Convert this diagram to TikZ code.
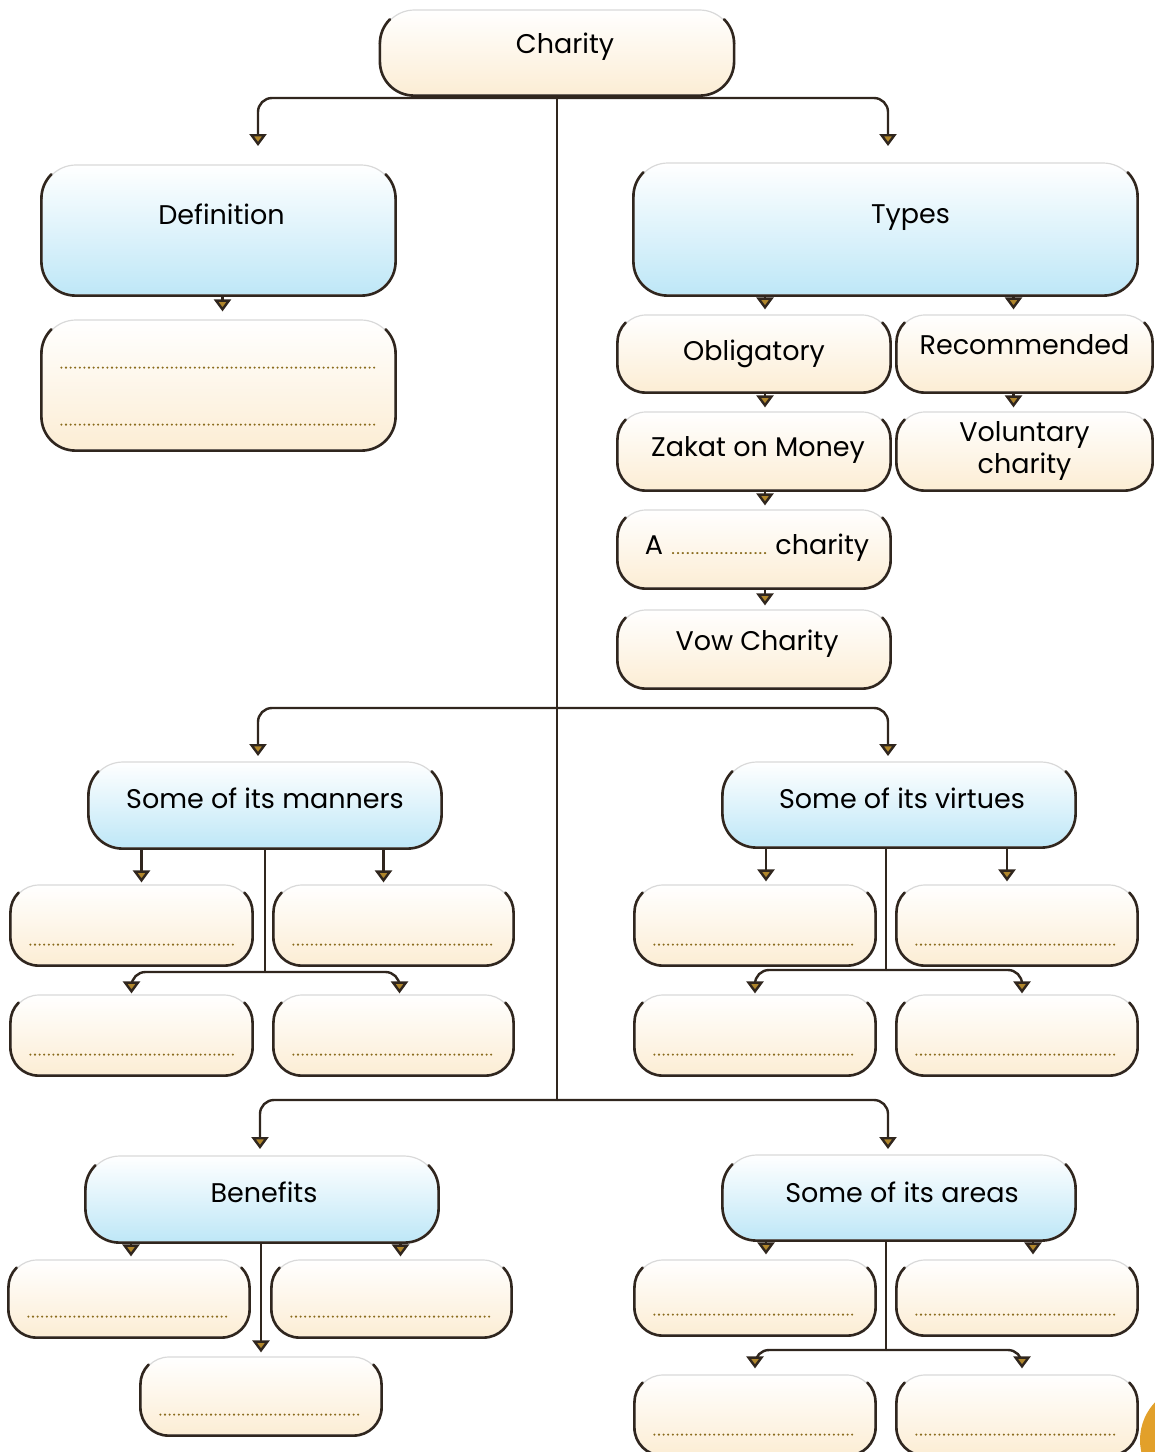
\documentclass[tikz,border=0pt]{standalone}
\usepackage{fontspec}
\setmainfont{Poppins}
\usetikzlibrary{arrows.meta,positioning}

\definecolor{linecol}{RGB}{48,38,30}
\definecolor{tipgold}{RGB}{176,134,44}
\definecolor{dotcol}{RGB}{138,108,30}
\definecolor{creambot}{RGB}{252,237,212}
\definecolor{bluebot}{RGB}{190,231,247}
\definecolor{pageorange}{RGB}{226,160,42}

\newcommand\boxfont{\fontsize{27}{32}\selectfont}
\newcommand\rim[2]{%
  \draw[rimline,rounded corners=#2] ([yshift=-#2]#1.north west) -- (#1.south west) -- (#1.south east) -- ([yshift=-#2]#1.north east);
  \draw[rimline] ([xshift=.293*#2,yshift=-.293*#2]#1.north west) .. controls ([xshift=.105*#2,yshift=-.48*#2]#1.north west) and ([yshift=-.735*#2]#1.north west) .. ([yshift=-#2]#1.north west);
  \draw[rimline] ([xshift=-.293*#2,yshift=-.293*#2]#1.north east) .. controls ([xshift=-.105*#2,yshift=-.48*#2]#1.north east) and ([yshift=-.735*#2]#1.north east) .. ([yshift=-#2]#1.north east);}
\newcommand\blank{{\fontsize{11}{11}\bfseries\selectfont\textcolor{dotcol}{\makebox[98pt]{\dotfill}}}}

\tikzset{
  box/.style={rounded corners=28pt, top color=white, bottom color=creambot,
    draw=gray!30, line width=1.2pt, inner sep=0pt, align=center, font=\boxfont,
    text height=20pt, text depth=6pt},
  headbox/.style={box, rounded corners=34pt, bottom color=bluebot},
  topbox/.style={box, rounded corners=34pt},
  rimline/.style={draw=linecol, line width=2.6pt, line cap=round},
  conn/.style={draw=linecol, line width=2.4pt},
  arr/.style={conn, rounded corners=14pt, -{Triangle[width=17pt,length=12pt,fill=tipgold]}},
  ansline/.style={draw=dotcol, line width=2.3pt, line cap=round, dash pattern=on 0pt off 4.6pt}
}

\begin{document}
\begin{tikzpicture}[x=1pt,y=-1pt]
    \useasboundingbox (0,0) rectangle (1155,1452);
    \clip (0,0) rectangle (1155,1452);

    \node[topbox, minimum width=353pt, minimum height=85pt, text depth=18pt] (charity) at (557,52.5) {\hspace*{16pt}Charity};

    \node[headbox, minimum width=353pt, minimum height=130pt, text depth=31pt] (defin) at (218.5,230) {\hspace*{6pt}Definition};
    \node[topbox, minimum width=353pt, minimum height=130pt] (defans) at (218.5,385) {};

    \node[headbox, minimum width=503pt, minimum height=132pt, text depth=31pt] (types) at (885.5,229) {\hspace*{50pt}Types};
    \node[box, minimum width=272pt, minimum height=77pt] (oblig) at (754,353.5) {Obligatory};
    \node[box, minimum width=255pt, minimum height=77pt, text depth=19pt] (recom) at (1024.5,353.5) {Recommended};
    \node[box, minimum width=272pt, minimum height=78pt, text depth=9pt] (zakat) at (754,451) {\hspace*{8pt}Zakat on Money};
    \node[box, minimum width=255pt, minimum height=78pt, text height=, text depth=] (volun) at (1024.5,451) {Voluntary\\charity};
    \node[box, minimum width=272pt, minimum height=78pt, text depth=9pt] (achar) at (754,549) {\hspace*{6pt}A \blank{} charity};
    \node[box, minimum width=272pt, minimum height=78pt, text depth=17pt] (vow) at (754,649) {\hspace*{6pt}Vow Charity};

    \node[headbox, minimum width=352pt, minimum height=86pt, text depth=13pt] (manners) at (265,805) {Some of its manners};
    \node[box, minimum width=241pt, minimum height=80pt] (m1) at (131.5,925) {};
    \node[box, minimum width=239pt, minimum height=80pt] (m2) at (393.5,925) {};
    \node[box, minimum width=241pt, minimum height=80pt] (m3) at (131.5,1035) {};
    \node[box, minimum width=239pt, minimum height=80pt] (m4) at (393.5,1035) {};

    \node[headbox, minimum width=352pt, minimum height=85pt, text depth=13pt] (virtues) at (899,804.5) {\hspace*{6pt}Some of its virtues};
    \node[box, minimum width=240pt, minimum height=80pt] (v1) at (755,925) {};
    \node[box, minimum width=240pt, minimum height=80pt] (v2) at (1017,925) {};
    \node[box, minimum width=240pt, minimum height=80pt] (v3) at (755,1035) {};
    \node[box, minimum width=240pt, minimum height=80pt] (v4) at (1017,1035) {};

    \node[headbox, minimum width=352pt, minimum height=86pt, text depth=13pt] (benef) at (262,1199) {\hspace*{4pt}Benefits};
    \node[box, minimum width=240pt, minimum height=77pt] (b1) at (129,1298.5) {};
    \node[box, minimum width=239pt, minimum height=77pt] (b2) at (391.5,1298.5) {};
    \node[box, minimum width=240pt, minimum height=78pt] (b3) at (261,1396) {};

    \node[headbox, minimum width=352pt, minimum height=85pt, text depth=11pt] (areas) at (899,1197.5) {\hspace*{6pt}Some of its areas};
    \node[box, minimum width=240pt, minimum height=75pt] (a1) at (755,1297.5) {};
    \node[box, minimum width=240pt, minimum height=75pt] (a2) at (1017,1297.5) {};
    \node[box, minimum width=240pt, minimum height=80pt] (a3) at (755,1415) {};
    \node[box, minimum width=240pt, minimum height=80pt] (a4) at (1017,1415) {};

    \foreach \n in {charity,defin,defans,types,manners,virtues,benef,areas} {\rim{\n}{34pt}}
    \foreach \n in {oblig,recom,zakat,volun,achar,vow,m1,m2,m3,m4,v1,v2,v3,v4,b1,b2,b3,a1,a2,a3,a4} {\rim{\n}{28pt}}

    % lines to write on
    \draw[ansline] ([xshift=20pt,yshift=83pt]defans.south west) -- ([xshift=-19pt,yshift=83pt]defans.south east);
    \draw[ansline] ([xshift=20pt,yshift=26pt]defans.south west) -- ([xshift=-19pt,yshift=26pt]defans.south east);
    \foreach \n in {m1,m2,m3,m4,v1,v2,v3,v4,b1,b2,b3,a1,a2,a3,a4}
        \draw[ansline] ([xshift=20pt,yshift=21pt]\n.south west) -- ([xshift=-19pt,yshift=21pt]\n.south east);

    \coordinate (j1) at (557,98);
    \coordinate (j2) at (557,708);
    \coordinate (j3) at (557,1100);
    \coordinate (tdefin) at (258,146);
    \coordinate (ttypes) at (888,146);
    \coordinate (tmanners) at (258,756);
    \coordinate (tvirtues) at (888,756);
    \coordinate (tbenef) at (260,1149);
    \coordinate (tareas) at (888,1149);
    \coordinate (jm) at (265,972);
    \coordinate (jv) at (886,970);
    \coordinate (ja) at (886,1350);

    \draw[conn] (charity.south) -- (j3);
    \draw[arr] (j1) -| (tdefin);
    \draw[arr] (j1) -| (ttypes);
    \draw[arr] (j2) -| (tmanners);
    \draw[arr] (j2) -| (tvirtues);
    \draw[arr] (j3) -| (tbenef);
    \draw[arr] (j3) -| (tareas);

    \draw[arr, shorten >=8pt] ([xshift=4pt]defin.south) -- ([xshift=4pt]defans.north);

    \draw[arr, shorten >=5pt] ([xshift=11pt]oblig.north |- types.south) -- ([xshift=11pt]oblig.north);
    \draw[arr, shorten >=5pt] ([xshift=-11pt]recom.north |- types.south) -- ([xshift=-11pt]recom.north);
    \draw[arr, shorten >=4pt] ([xshift=11pt]oblig.south) -- ([xshift=11pt]zakat.north);
    \draw[arr, shorten >=4pt] ([xshift=-11pt]recom.south) -- ([xshift=-11pt]volun.north);
    \draw[arr, shorten >=4pt] ([xshift=11pt]zakat.south) -- ([xshift=11pt]achar.north);
    \draw[arr, shorten >=4pt] ([xshift=11pt]achar.south) -- ([xshift=11pt]vow.north);

    \draw[arr, shorten >=2pt] ([xshift=10pt]m1.north |- manners.south) -- ([xshift=10pt]m1.north);
    \draw[arr, shorten >=2pt] ([xshift=-10pt]m2.north |- manners.south) -- ([xshift=-10pt]m2.north);
    \draw[conn] (manners.south) -- (jm);
    \draw[arr, shorten >=1pt] (jm) -| (m3.north);
    \draw[arr, shorten >=1pt] (jm) -| ([xshift=6pt]m4.north);

    \draw[arr, shorten >=3pt] ([xshift=11pt]v1.north |- virtues.south) -- ([xshift=11pt]v1.north);
    \draw[arr, shorten >=3pt] ([xshift=-10pt]v2.north |- virtues.south) -- ([xshift=-10pt]v2.north);
    \draw[conn] (jv |- virtues.south) -- (jv);
    \draw[arr, shorten >=1pt] (jv) -| (v3.north);
    \draw[arr, shorten >=1pt] (jv) -| ([xshift=5pt]v4.north);

    \draw[arr, shorten >=3pt] ([xshift=2pt]b1.north |- benef.south) -- ([xshift=2pt]b1.north);
    \draw[arr, shorten >=3pt] ([xshift=9pt]b2.north |- benef.south) -- ([xshift=9pt]b2.north);
    \draw[arr, shorten >=4pt] (b3.north |- benef.south) -- (b3.north);

    \draw[arr, shorten >=5pt] ([xshift=11pt]a1.north |- areas.south) -- ([xshift=11pt]a1.north);
    \draw[arr, shorten >=5pt] ([xshift=16pt]a2.north |- areas.south) -- ([xshift=16pt]a2.north);
    \draw[conn] (ja |- areas.south) -- (ja);
    \draw[arr, shorten >=6pt] (ja) -| (a3.north);
    \draw[arr, shorten >=6pt] (ja) -| ([xshift=5pt]a4.north);

    \fill[pageorange] (1195,1440) circle (55pt);
\end{tikzpicture}
\end{document}
